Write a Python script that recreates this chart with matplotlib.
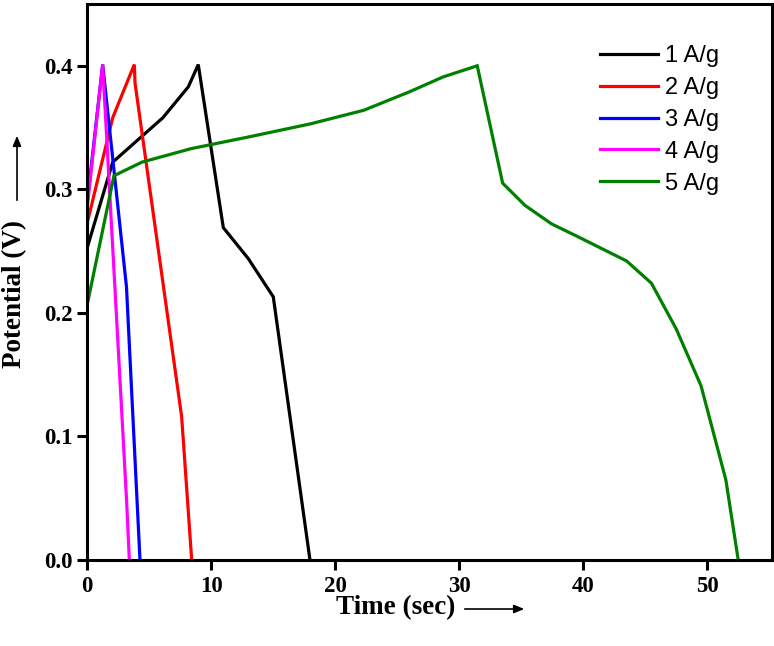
import matplotlib
matplotlib.use("Agg")
import matplotlib.pyplot as plt

# ---- data ----
t_1 = [0, 2.05, 6.1, 8.15, 8.95, 10.97, 12.98, 15.0, 17.96]
v_1 = [0.253, 0.322, 0.358, 0.383, 0.401, 0.269, 0.244, 0.213, 0.0]

t_2 = [0, 2.05, 3.79, 3.85, 7.61, 8.42]
v_2 = [0.273, 0.358, 0.401, 0.386, 0.116, 0.0]

t_3 = [0, 1.24, 3.16, 4.25]
v_3 = [0.29, 0.401, 0.221, 0.0]

t_4 = [0, 1.24, 3.18, 3.39]
v_4 = [0.286, 0.401, 0.046, 0.0]

t_5 = [0, 2.15, 4.4, 8.4, 13.3, 18.0, 22.3, 26.0, 28.7, 31.45, 33.5, 35.3,
       37.45, 39.5, 41.5, 43.5, 45.5, 47.5, 49.5, 51.5, 52.5]
v_5 = [0.207, 0.311, 0.322, 0.333, 0.343, 0.353, 0.364, 0.379, 0.391, 0.400,
       0.305, 0.287, 0.272, 0.262, 0.252, 0.242, 0.224, 0.187, 0.141, 0.065, 0.0]

labels = ["1 A/g", "2 A/g", "3 A/g", "4 A/g", "5 A/g"]
colors = ["#000000", "#ff0000", "#0000ff", "#ff00ff", "#008000"]
x_ticks = [0, 10, 20, 30, 40, 50]
y_ticks = [0.0, 0.1, 0.2, 0.3, 0.4]

# ---- figure ----
W, H = 774, 646
fig = plt.figure(figsize=(W / 100, H / 100), dpi=100)
ax = fig.add_axes([87.3 / W, 1 - 560 / H, (771.7 - 87.3) / W, (560 - 4) / H])

series = [(t_1, v_1), (t_2, v_2), (t_3, v_3), (t_4, v_4), (t_5, v_5)]
for (t, v), lab, c in zip(series, labels, colors):
    ax.plot(t, v, color=c, lw=2.3, label=lab, solid_joinstyle="miter")

ax.set_xlim(0, 55.2)
ax.set_ylim(0, 0.45)
ax.set_xticks(x_ticks)
ax.set_yticks(y_ticks)
ax.set_xticklabels([str(x) for x in x_ticks])
ax.set_yticklabels([f"{y:.1f}" for y in y_ticks])

serif = ["Liberation Serif", "DejaVu Serif"]
for lbl in ax.get_xticklabels() + ax.get_yticklabels():
    lbl.set_fontfamily(serif)
    lbl.set_fontweight("bold")
    lbl.set_fontsize(16.5)

ax.tick_params(direction="out", length=7.5, width=2.2)
ax.tick_params(axis="x", pad=4)
ax.tick_params(axis="y", pad=3)
for s in ax.spines.values():
    s.set_linewidth(2.2)

# axis labels
fig.text(396 / W, 1 - 608 / H, "Time (sec)", ha="center", va="center",
         fontfamily=serif, fontweight="bold", fontsize=19.5)
fig.text(15 / W, 1 - 294 / H, "Potential (V)", ha="center", va="center",
         rotation=90, fontfamily=serif, fontweight="bold", fontsize=19.5)

# arrows
fig.add_artist(matplotlib.patches.FancyArrowPatch(
    (462 / W, 1 - 609 / H), (527 / W, 1 - 609 / H), transform=fig.transFigure,
    arrowstyle="-|>,head_length=6,head_width=2.5", color="black", lw=1.2,
    mutation_scale=1))
fig.add_artist(matplotlib.patches.FancyArrowPatch(
    (17 / W, 1 - 203 / H), (17 / W, 1 - 133 / H), transform=fig.transFigure,
    arrowstyle="-|>,head_length=6,head_width=2.5", color="black", lw=1.2,
    mutation_scale=1))

leg = ax.legend(loc="upper left", bbox_to_anchor=(600 / W, 1 - 45 / H),
                bbox_transform=fig.transFigure, frameon=False,
                prop={"family": ["Liberation Sans", "DejaVu Sans"], "size": 17},
                handlelength=2.45, handletextpad=0.3, labelspacing=0.42,
                borderpad=0, borderaxespad=0)

fig.savefig("out.png", dpi=100)
